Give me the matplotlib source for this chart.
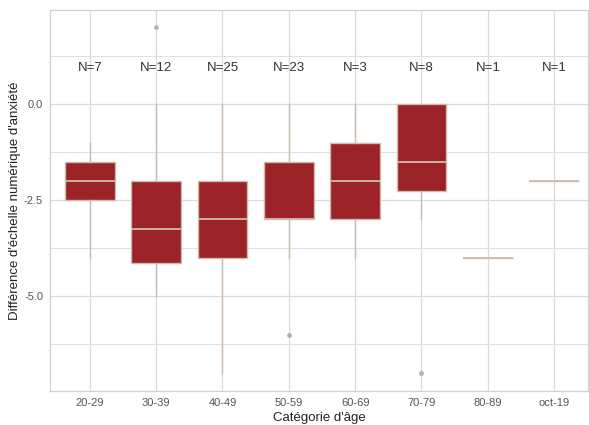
import matplotlib.pyplot as plt
from matplotlib.ticker import MultipleLocator

plt.rcParams["font.family"] = ["Liberation Sans", "DejaVu Sans"]

# box statistics per age group
categories = ["20-29", "30-39", "40-49", "50-59", "60-69", "70-79", "80-89", "oct-19"]
counts = [7, 12, 25, 23, 3, 8, 1, 1]
q1 = [-2.5, -4.125, -4.0, -3.0, -3.0, -2.25, -4.0, -2.0]
median = [-2.0, -3.25, -3.0, -3.0, -2.0, -1.5, -4.0, -2.0]
q3 = [-1.5, -2.0, -2.0, -1.5, -1.0, 0.0, -4.0, -2.0]
whisker_lo = [-4.0, -5.0, -7.0, -4.0, -4.0, -3.0, -4.0, -2.0]
whisker_hi = [-1.0, 0.0, 0.0, 0.0, 0.0, 0.0, -4.0, -2.0]
outliers = [[], [2.0], [], [-6.0], [], [-7.0], [], []]

box_fill = "#9b2226"
line_col = "#cbbcae"

stats = []
for i, cat in enumerate(categories):
    stats.append(dict(label=cat, q1=q1[i], med=median[i], q3=q3[i],
                      whislo=whisker_lo[i], whishi=whisker_hi[i],
                      fliers=outliers[i]))

fig = plt.figure(figsize=(5.89, 4.25), dpi=100)
ax = fig.add_axes([50 / 589, 1 - 391 / 425, 538 / 589, 381 / 425])

ax.bxp(stats, positions=range(1, len(categories) + 1), widths=0.75,
       patch_artist=True, showcaps=False,
       boxprops=dict(facecolor=box_fill, edgecolor=line_col, linewidth=1),
       medianprops=dict(color=line_col, linewidth=1.3),
       whiskerprops=dict(color=line_col, linewidth=1),
       flierprops=dict(marker="o", markersize=3.5, markerfacecolor="#bfb0a3",
                       markeredgecolor="none"))

for i, n in enumerate(counts):
    ax.text(i + 1, 0.95, f"N={n}", ha="center", va="center",
            fontsize=9.5, color="#333333")

ax.set_xlim(0.4, 8.51)
ax.set_ylim(-7.47, 2.45)
ax.yaxis.set_minor_locator(MultipleLocator(1.25))
ax.set_yticks([-5.0, -2.5, 0.0])
ax.set_yticklabels(["-5.0", "-2.5", "0.0"])

ax.grid(True, which="major", color="#dadada", linewidth=0.9)
ax.grid(True, which="minor", axis="y", color="#e0e0e0", linewidth=0.8)
ax.set_axisbelow(True)
ax.tick_params(axis="both", which="both", length=0, labelsize=8,
               labelcolor="#555555", pad=5)
for side in ["top", "right", "left", "bottom"]:
    ax.spines[side].set_color("#d0d0d0")
    ax.spines[side].set_linewidth(0.9)

ax.set_xlabel("Catégorie d'âge", fontsize=9.5, color="#222222", labelpad=3)
ax.set_ylabel("Différence d'échelle numérique d'anxiété", fontsize=9.5,
              color="#222222", labelpad=2)

plt.savefig("out.png", dpi=100)
